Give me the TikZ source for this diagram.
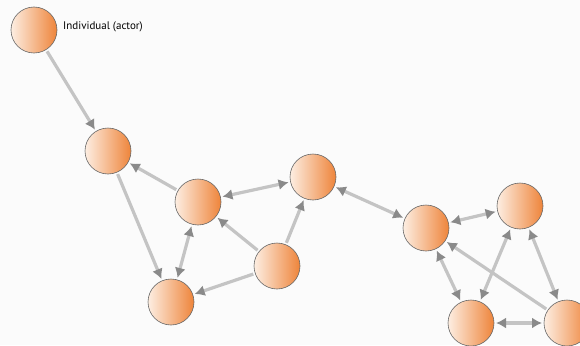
\documentclass[tikz,border=0pt]{standalone}
\usepackage{fontspec}
\setsansfont{PT Sans}
\usetikzlibrary{positioning,arrows.meta}

\definecolor{actororange}{RGB}{238,132,58}
\definecolor{actorpale}{RGB}{253,238,226}
\definecolor{linkgray}{RGB}{196,196,196}
\definecolor{tipgray}{RGB}{138,138,138}

\begin{document}
\begin{tikzpicture}[
        x=1pt, y=-1pt,
        >={Latex[length=10pt,width=11pt,color=tipgray]},
        actor/.style = {
            circle, draw=black!60, semithick,
            left color=actorpale, right color=actororange,
            minimum size=46pt, inner sep=0pt, outer sep=2pt},
        arr/.style = {draw=linkgray, line width=3.2pt, ->},
        darr/.style = {arr, <->},
        lab/.style = {font=\sffamily\fontsize{11}{13}\selectfont, inner sep=0pt},
]
        \fill[gray!3] (0,0) rectangle (580,345);
        \clip (0,0) rectangle (580,345);
        % actors
        \node[actor] (A) at (34,30) {};
        \node[actor] (B) at (108,151) {};
        \node[actor] (C) at (198,202) {};
        \node[actor] (D) at (313,177) {};
        \node[actor] (E) at (277,266) {};
        \node[actor] (F) at (171,302) {};
        \node[actor] (G) at (426,228) {};
        \node[actor] (H) at (520,206) {};
        \node[actor] (I) at (471,323) {};
        \node[actor] (J) at (567,323) {};
        \node[lab] (Alab) [right=4pt of A, yshift=3pt] {Individual (actor)};
        % ties
        \draw [arr] (A) -- (B);
        \draw [arr] (B) -- (F);
        \draw [arr] (C) -- (B);
        \draw [darr] (C) -- (D);
        \draw [darr] (C) -- (F);
        \draw [arr] (E) -- (C);
        \draw [arr] (E) -- (D);
        \draw [arr] (E) -- (F);
        \draw [darr] (D) -- (G);
        \draw [darr] (G) -- (H);
        \draw [darr] (G) -- (I);
        \draw [arr] (J) -- (G);
        \draw [darr] (H) -- (I);
        \draw [darr] (H) -- (J);
        \draw [darr] (I) -- (J);
\end{tikzpicture}
\end{document}
